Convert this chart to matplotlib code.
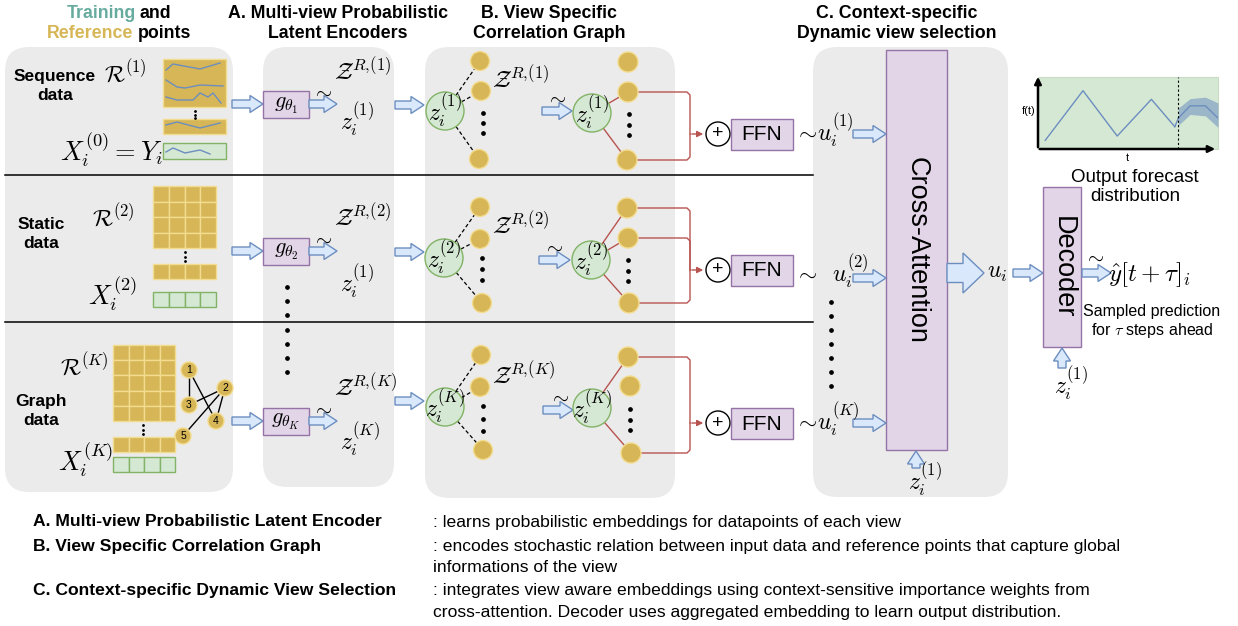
import matplotlib
matplotlib.use("Agg")
import matplotlib.pyplot as plt
from matplotlib.patches import FancyBboxPatch, Rectangle, Circle, FancyArrow
import numpy as np

plt.rcParams['font.family'] = ['Liberation Sans', 'DejaVu Sans']
plt.rcParams['mathtext.fontset'] = 'cm'

# ---------------- text / data ----------------
head_words = [[("Training", "teal"), ("and", "black")],
              [("Reference", "gold"), ("points", "black")]]
titles = [("A. Multi-view Probabilistic\nLatent Encoders", 338),
          ("B. View Specific\nCorrelation Graph", 549),
          ("C. Context-specific\nDynamic view selection", 897)]
row_labels = ["Sequence\ndata", "Static\ndata", "Graph\ndata"]
ref_labels = [r"$\mathcal{R}^{(1)}$", r"$\mathcal{R}^{(2)}$", r"$\mathcal{R}^{(K)}$"]
input_labels = [r"$X_i^{(0)}=Y_i$", r"$X_i^{(2)}$", r"$X_i^{(K)}$"]
enc_labels = [r"$g_{\theta_1}$", r"$g_{\theta_2}$", r"$g_{\theta_K}$"]
zr_labels = [r"$\mathcal{Z}^{R,\!(1)}$", r"$\mathcal{Z}^{R,\!(2)}$", r"$\mathcal{Z}^{R,\!(K)}$"]
z_enc_labels = [r"$z_i^{(1)}$", r"$z_i^{(1)}$", r"$z_i^{(K)}$"]
z_node_labels = [r"$z_i^{(1)}$", r"$z_i^{(2)}$", r"$z_i^{(K)}$"]
u_labels = [r"$\sim\!u_i^{(1)}$", r"$\sim\;\;u_i^{(2)}$", r"$\sim\!u_i^{(K)}$"]
graph_nodes = ["1", "2", "3", "4", "5"]
graph_edges = [("1", "3"), ("1", "4"), ("3", "2"), ("2", "4"), ("2", "5")]
legend_terms = ["A. Multi-view Probabilistic Latent Encoder",
                "B. View Specific Correlation Graph",
                "C. Context-specific Dynamic View Selection"]
legend_descs = [[": learns probabilistic embeddings for datapoints of each view"],
                [": encodes stochastic relation between input data and reference points that capture global",
                 "informations of the view"],
                [": integrates view aware embeddings using context-sensitive importance weights from",
                 "cross-attention. Decoder uses aggregated embedding to learn output distribution."]]
# forecast mini-chart values
hist_t = [0.4, 2.5, 4.4, 6.3, 7.6]
hist_f = [0.12, 0.81, 0.18, 0.69, 0.31]
cut_t = 7.8
fc_t = [7.8, 8.45, 9.3, 10.0]
fc_mean = [0.43, 0.60, 0.60, 0.43]
fc_low = [0.33, 0.48, 0.46, 0.30]
fc_high = [0.57, 0.70, 0.72, 0.64]

# ---------------- colours ----------------
GRAY = '#ebebeb'
GOLD = '#d6b656'
GOLD_EC = '#f3dc8f'
GREEN = '#d5e8d4'
GREEN_EC = '#82b366'
PURPLE = '#e1d5e7'
PURPLE_EC = '#9673a6'
BLUE = '#dae8fc'
BLUE_EC = '#6c8ebf'
RED = '#b85450'
TEAL = '#67ab9f'
WORD_COL = {"teal": TEAL, "gold": GOLD, "black": "black"}

W, H = 1238, 626
fig = plt.figure(figsize=(W / 100, H / 100), dpi=100)
ax = fig.add_axes([0, 0, 1, 1])
ax.set_xlim(0, W)
ax.set_ylim(H, 0)
ax.axis('off')
renderer = fig.canvas.get_renderer()


def panel(x0, y0, x1, y1):
    ax.add_patch(FancyBboxPatch((x0, y0), x1 - x0, y1 - y0,
                                boxstyle="round,pad=0,rounding_size=24",
                                fc=GRAY, ec='none', zorder=0))


def harrow(x0, x1, y, shaft=8, head=17, hl=13):
    ax.add_patch(FancyArrow(x0, y, x1 - x0, 0, width=shaft, head_width=head,
                            head_length=hl, length_includes_head=True,
                            fc=BLUE, ec=BLUE_EC, lw=1, zorder=3))


def varrow(x, y0, y1, shaft=8, head=17, hl=13):
    ax.add_patch(FancyArrow(x, y0, 0, y1 - y0, width=shaft, head_width=head,
                            head_length=hl, length_includes_head=True,
                            fc=BLUE, ec=BLUE_EC, lw=1, zorder=3))


def vdots(x, y0, y1, n, s=2.2):
    ys = np.linspace(y0, y1, n)
    ax.plot([x] * n, ys, 'o', color='black', ms=s, zorder=4)


def math(x, y, s, size=17, ha='left', **kw):
    ax.text(x, y, s, fontsize=size, ha=ha, va='center', zorder=6, **kw)


def rich_line(xc, y, words, size, gap=4):
    ts = [ax.text(0, y, w, color=WORD_COL[c], fontsize=size, fontweight='bold',
                  ha='left', va='center') for w, c in words]
    ws = [t.get_window_extent(renderer).width for t in ts]
    total = sum(ws) + gap * (len(ws) - 1)
    x = xc - total / 2
    for t, w in zip(ts, ws):
        t.set_x(x)
        x += w + gap


# ---------------- panels & dividers ----------------
panel(5, 47, 233, 492)
panel(263, 47, 394, 487)
panel(425, 47, 675, 498)
panel(813, 47, 1008, 497)
for yd in (175, 322):
    ax.plot([5, 813], [yd, yd], color='black', lw=1.1, zorder=1)

# ---------------- titles ----------------
TS = 12.8
rich_line(119, 13, head_words[0], TS)
rich_line(119, 34, head_words[1], TS)
for txt, xc in titles:
    ax.text(xc, 23.5, txt, linespacing=1.25, fontsize=TS, fontweight='bold', ha='center', va='center')

# ---------------- panel 1 : inputs ----------------
rkw = dict(fontsize=12.5, fontweight='bold', ha='center', va='center', linespacing=1.3)
ax.text(55, 86, row_labels[0], **rkw)
ax.text(41, 234, row_labels[1], **rkw)
ax.text(41, 411, row_labels[2], **rkw)

math(104, 72, ref_labels[0], 17)
math(60, 150, input_labels[0], 19)
math(92, 216, ref_labels[1], 17)
math(88, 294, input_labels[1], 19)
math(60, 365, ref_labels[2], 17)
math(58, 460, input_labels[2], 19)

# sequence boxes
seq_boxes = [(163, 59, 63, 48, GOLD, GOLD_EC), (163, 119, 63, 15, GOLD, GOLD_EC),
             (163, 143, 63, 16, GREEN, GREEN_EC)]
for (x, y, w, h, fc, ec) in seq_boxes:
    ax.add_patch(Rectangle((x, y), w, h, fc=fc, ec=ec, lw=1, zorder=2))
seq_lines = [
    [(166, 70), (173, 64), (200, 69), (220, 63)],
    [(166, 80), (177, 87), (185, 88), (200, 85), (223, 86)],
    [(166, 97), (177, 100), (193, 100), (200, 93), (208, 97), (213, 93), (221, 103)],
    [(166, 125), (177, 122), (200, 128), (220, 123)],
    [(166, 152), (173, 148), (185, 153), (200, 150), (210, 154)],
]
for pts in seq_lines:
    xs, ys = zip(*pts)
    ax.plot(xs, ys, color='#6c8ebf', lw=1, zorder=3)
vdots(195, 111, 118, 3, 1.0)


def grid(x, y, cols, rows, cw, ch, fc, ec):
    for r in range(rows):
        for c in range(cols):
            ax.add_patch(Rectangle((x + c * cw, y + r * ch), cw, ch, fc=fc, ec=ec, lw=1, zorder=2))


grid(153, 186, 4, 4, 15.75, 15.5, GOLD, GOLD_EC)
vdots(185, 252, 261, 3, 1.0)
grid(153, 264, 4, 1, 15.75, 15, GOLD, GOLD_EC)
grid(153, 292, 4, 1, 15.75, 15, GREEN, GREEN_EC)

grid(113, 345, 4, 5, 15.5, 15.2, GOLD, GOLD_EC)
vdots(143, 425, 434, 3, 1.0)
grid(113, 437, 4, 1, 15.5, 15, GOLD, GOLD_EC)
grid(113, 457, 4, 1, 15.5, 15, GREEN, GREEN_EC)

node_pos = {"1": (189, 370), "2": (225, 388), "3": (189, 405), "4": (216, 421), "5": (183, 436)}
for a, b in graph_edges:
    (xa, ya), (xb, yb) = node_pos[a], node_pos[b]
    ax.plot([xa, xb], [ya, yb], color='black', lw=1, zorder=3)
for n in graph_nodes:
    x, y = node_pos[n]
    ax.add_patch(Circle((x, y), 8, fc=GOLD, ec=GOLD_EC, lw=1, zorder=4))
    ax.text(x, y, n, fontsize=7.5, ha='center', va='center', zorder=5)

# ---------------- panel 2 : encoders ----------------
row_y = [104, 251, 421]
for i, yc in enumerate(row_y):
    harrow(232, 263, yc)
    ax.add_patch(Rectangle((263, yc - 13), 46, 27, fc=PURPLE, ec=PURPLE_EC, lw=1, zorder=3))
    math(286, yc + 1, enc_labels[i], 16, ha='center')
    harrow(309, 337, yc)
    math(312, yc - 12, r"$\sim$", 15)
zr_y = [72, 218, 388]
ze_y = [120, 282, 440]
for i in range(3):
    math(334, zr_y[i], zr_labels[i], 17)
    math(340, ze_y[i], z_enc_labels[i], 17)
vdots(287, 287, 372, 7, 2.4)

# ---------------- panel 3 : correlation graphs ----------------
rows3 = [
    dict(c1=(445, 111), left=[(480, 61), (481, 91), (479, 159)], ldots=(483, 113, 133),
         zr=(492, 80), arr=(542, 572, 111), tl=(546, 98), c2=(592, 113),
         right=[(628, 62), (628, 92), (627, 160)], rdots=(629, 114, 135), red=[1, 2], plus=134),
    dict(c1=(444, 258), left=[(480, 207), (480, 239), (482, 303)], ldots=(482, 258, 280),
         zr=(492, 226), arr=(539, 570, 260), tl=(543, 247), c2=(591, 260),
         right=[(627, 208), (628, 238), (629, 303)], rdots=(628, 260, 281), red=[0, 1, 2], plus=270),
    dict(c1=(445, 407), left=[(481, 355), (480, 387), (483, 450)], ldots=(483, 406, 431),
         zr=(492, 376), arr=(543, 573, 410), tl=(549, 397), c2=(592, 408),
         right=[(628, 357), (630, 386), (631, 453)], rdots=(630, 409, 430), red=[0, 2], plus=423),
]
for i, r in enumerate(rows3):
    cx, cy = r['c1']
    harrow(395, 424, cy - 6)
    ax.add_patch(Circle((cx, cy), 19, fc=GREEN, ec=GREEN_EC, lw=1, zorder=3))
    math(cx, cy, z_node_labels[i], 17, ha='center')
    for (nx, ny) in r['left']:
        ang = np.arctan2(ny - cy, nx - cx)
        ax.plot([cx + 19 * np.cos(ang), nx - 9 * np.cos(ang)], [cy + 19 * np.sin(ang), ny - 9 * np.sin(ang)],
                color='black', lw=0.9, ls=(0, (3, 2)), zorder=2)
        ax.add_patch(Circle((nx, ny), 9.5, fc=GOLD, ec=GOLD_EC, lw=1, zorder=4))
    vdots(r['ldots'][0], r['ldots'][1], r['ldots'][2], 3, 2.4)
    math(r['zr'][0], r['zr'][1], zr_labels[i], 17)
    a0, a1, ay = r['arr']
    harrow(a0, a1, ay)
    math(r['tl'][0], r['tl'][1], r"$\sim$", 15)
    c2x, c2y = r['c2']
    ax.add_patch(Circle((c2x, c2y), 19, fc=GREEN, ec=GREEN_EC, lw=1, zorder=3))
    math(c2x, c2y, z_node_labels[i], 17, ha='center')
    py = r['plus']
    for j, (nx, ny) in enumerate(r['right']):
        ax.add_patch(Circle((nx, ny), 10, fc=GOLD, ec=GOLD_EC, lw=1, zorder=4))
        if j in r['red']:
            ang = np.arctan2(ny - c2y, nx - c2x)
            ax.plot([c2x + 19 * np.cos(ang), nx - 10 * np.cos(ang)], [c2y + 19 * np.sin(ang), ny - 10 * np.sin(ang)],
                    color=RED, lw=1, zorder=2)
            ax.plot([nx + 10, 687, 690, 690], [ny, ny, ny + (3 if ny < py else -3), py],
                    color=RED, lw=1, zorder=2)
    vdots(r['rdots'][0], r['rdots'][1], r['rdots'][2], 3, 2.4)
    ax.annotate('', xy=(706, py), xytext=(689, py),
                arrowprops=dict(arrowstyle='-|>', color=RED, lw=1, mutation_scale=9), zorder=3)
    ax.add_patch(Circle((718, py), 12, fc='white', ec='black', lw=1, zorder=3))
    ax.text(718, py, "+", fontsize=14, ha='center', va='center', zorder=4)
    ax.add_patch(Rectangle((731, py - 15.5), 62, 31, fc=PURPLE, ec=PURPLE_EC, lw=1, zorder=3))
    ax.text(762, py + 1, "FFN", fontsize=15, ha='center', va='center', zorder=4)

# ---------------- panel 4 : cross attention ----------------
ax.add_patch(Rectangle((886, 50), 61, 400, fc=PURPLE, ec=PURPLE_EC, lw=1, zorder=3))
ax.text(917, 250, "Cross-Attention", fontsize=19.5, rotation=-90, ha='center', va='center', zorder=4)
u_y = [134, 278, 423]
for i in range(3):
    math(794, u_y[i] - 3 if i != 1 else u_y[i] - 6, u_labels[i], 17)
    harrow(853, 886, u_y[i])
vdots(831, 302, 386, 7, 2.4)
varrow(916, 468, 451)
math(908, 480, r"$z_i^{(1)}$", 17)

harrow(947, 984, 273, shaft=19, head=40, hl=21)
math(987, 273, r"$u_i$", 17)
harrow(1013, 1043, 273)
ax.add_patch(Rectangle((1043, 187), 38, 160, fc=PURPLE, ec=PURPLE_EC, lw=1, zorder=3))
ax.text(1063, 267, "Decoder", fontsize=19.5, rotation=-90, ha='center', va='center', zorder=4)
harrow(1082, 1111, 273)
math(1084, 257, r"$\sim$", 15)
math(1108, 275, r"$\hat{y}[t+\tau]_i$", 18)
ax.text(1152, 322, "Sampled prediction\nfor $\\tau$ steps ahead", fontsize=11.5, ha='center',
        va='center', linespacing=1.2)
varrow(1062, 368, 348)
math(1054, 384, r"$z_i^{(1)}$", 17)

# forecast mini chart
ax.add_patch(Rectangle((1038, 77), 180, 72, fc=GREEN, ec='#c9ddc6', lw=0.8, zorder=2))
ax.annotate('', xy=(1038, 74), xytext=(1038, 150),
            arrowprops=dict(arrowstyle='-|>', color='black', lw=1.8, mutation_scale=10), zorder=5)
ax.annotate('', xy=(1218, 149), xytext=(1037, 149),
            arrowprops=dict(arrowstyle='-|>', color='black', lw=1.8, mutation_scale=10), zorder=5)
ax.text(1036, 111, "f(t)", fontsize=8, ha='right', va='center')
ax.text(1127, 158, "t", fontsize=8, ha='center', va='center')
ax.text(1135, 187, "Output forecast\ndistribution", fontsize=13.5, ha='center', va='center', linespacing=1.15)

iax = fig.add_axes([1038 / W, 1 - 149 / H, 180 / W, 72 / H])
iax.set_xlim(0, 10)
iax.set_ylim(0, 1)
iax.axis('off')
iax.patch.set_alpha(0)
iax.plot(hist_t, hist_f, color='#6c8ebf', lw=1)
iax.plot([hist_t[-1], fc_t[0]], [hist_f[-1], fc_mean[0]], color='#6c8ebf', lw=1)
iax.fill_between(fc_t, fc_low, fc_high, color='#6c8ebf', alpha=0.55, lw=0)
iax.plot(fc_t, fc_mean, color='#6c8ebf', lw=1)
iax.axvline(cut_t, color='black', lw=0.8, ls=(0, (2, 2)))

# ---------------- bottom legend ----------------
LS = 12.6
term_y = [522, 546, 591]
for i in range(3):
    t = ax.text(33, term_y[i], legend_terms[i], fontsize=LS, fontweight='bold', ha='left', va='center')
    end_x = 33 + t.get_window_extent(renderer).width
    for k, line in enumerate(legend_descs[i]):
        x0 = max(433, end_x + 2) if k == 0 else 433
        ax.text(x0, term_y[i] + 21.5 * k, line, fontsize=LS, ha='left', va='center')

fig.savefig("out.png", dpi=100)
